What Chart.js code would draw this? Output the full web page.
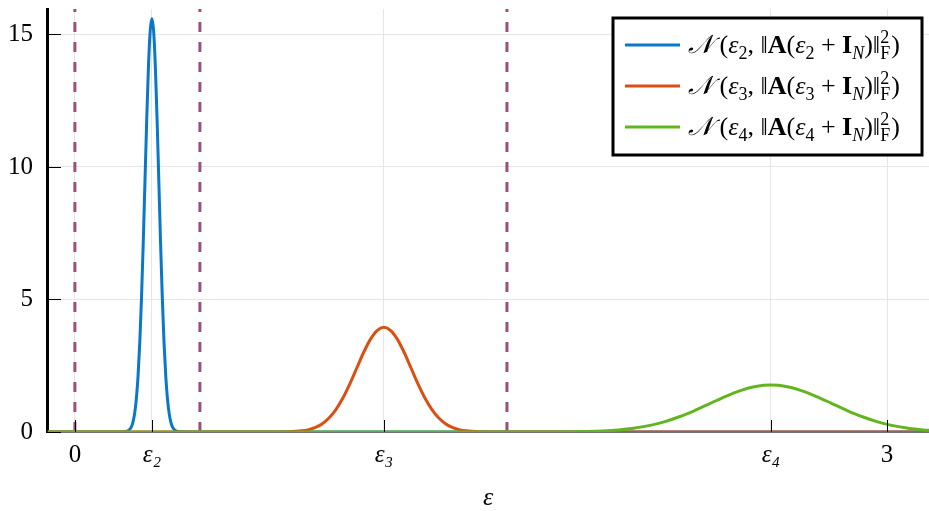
<!DOCTYPE html>
<html lang="en">
<head>
<meta charset="UTF-8">
<title>Gaussian densities</title>
<script src="https://cdn.jsdelivr.net/npm/chart.js"></script>
<style>
  body { margin: 0; padding: 0; background: #fff; }
  #wrap { width: 929px; height: 511px; }
</style>
</head>
<body>
<div id="wrap"><canvas id="densityChart"></canvas></div>
<script>
  // density samples, one list per curve
  const eps2X = [-0.10, 0.15, 0.1821, 0.1949, 0.2077, 0.2141, 0.2205, 0.2269, 0.2333, 0.2397, 0.2461, 0.2525, 0.2589, 0.2653, 0.2717, 0.2781,
                 0.2845, 0.2909, 0.2973, 0.3037, 0.3101, 0.3165, 0.3229, 0.3293, 0.3357, 0.3421, 0.3485, 0.3549, 0.3613, 0.3741, 0.3869, 0.42, 3.16];
  const eps2Y = [0, 0, 0.005, 0.034, 0.173, 0.356, 0.685, 1.24, 2.11, 3.37, 5.07, 7.14, 9.46, 11.77, 13.77, 15.12,
                 15.6, 15.12, 13.77, 11.77, 9.46, 7.14, 5.07, 3.37, 2.11, 1.24, 0.685, 0.356, 0.173, 0.034, 0.005, 0, 0];

  const eps3X = [-0.10, 0.69, 0.7375, 0.788, 0.8385, 0.8637, 0.889, 0.9142, 0.9395, 0.9647, 0.990, 1.0152, 1.0405, 1.0657, 1.091, 1.1162,
                 1.1415, 1.1668, 1.192, 1.2173, 1.2425, 1.2678, 1.293, 1.3183, 1.3435, 1.3688, 1.394, 1.4193, 1.4445, 1.495, 1.5455, 1.60, 3.16];
  const eps3Y = [0, 0, 0.0013, 0.0087, 0.044, 0.090, 0.173, 0.314, 0.535, 0.854, 1.283, 1.808, 2.396, 2.981, 3.486, 3.828,
                 3.95, 3.828, 3.486, 2.981, 2.396, 1.808, 1.283, 0.854, 0.535, 0.314, 0.173, 0.090, 0.044, 0.0087, 0.0013, 0, 0];

  const eps4X = [-0.10, 1.55, 1.6694, 1.7821, 1.8948, 1.9511, 2.0075, 2.0638, 2.1202, 2.1765, 2.2329, 2.2892, 2.3456, 2.402, 2.4583, 2.5147,
                 2.571, 2.6273, 2.6837, 2.740, 2.7964, 2.8528, 2.9091, 2.9655, 3.0218, 3.0782, 3.1345, 3.16];
  const eps4Y = [0, 0, 0.0006, 0.0039, 0.0196, 0.0404, 0.0777, 0.141, 0.2395, 0.383, 0.575, 0.810, 1.0735, 1.336, 1.562, 1.7155,
                 1.77, 1.7155, 1.562, 1.336, 1.0735, 0.810, 0.575, 0.383, 0.2395, 0.141, 0.0777, 0.058];

  // vertical dashed markers
  const dashedX = [0, 0.4618, 1.596];

  // axis ticks
  const xTickValues = [0, 0.2845, 1.1415, 2.571, 3];
  const xTickLabels = ['0', 'ε₂', 'ε₃', 'ε₄', '3'];
  const yTickValues = [0, 5, 10, 15];

  const seriesColors = ['#0a78c8', '#dc4f12', '#62b51f'];
  const dashColor = '#9b4f7d';
  const serif = "'Liberation Serif', 'DejaVu Serif', serif";

  // legend text as [text, kind] runs
  const legendRuns = k => [
    ['𝒩', 'i'], [' (', 'n'], ['ε', 'i'], [k, 'sub'], [', ‖', 'n'], ['A', 'b'], ['(', 'n'],
    ['ε', 'i'], [k, 'sub'], [' + ', 'n'], ['I', 'b'], ['N', 'subi'], [')‖', 'n'],
    [['2', 'F'], 'stack'], [')', 'n']
  ];
  const legendEntries = [legendRuns('2'), legendRuns('3'), legendRuns('4')];

  const toPoints = (xs, ys) => xs.map((x, i) => ({ x: x, y: ys[i] }));

  const curves = [[eps2X, eps2Y], [eps3X, eps3Y], [eps4X, eps4Y]].map((c, i) => ({
    data: toPoints(c[0], c[1]),
    borderColor: seriesColors[i],
    borderWidth: 3,
    pointRadius: 0,
    cubicInterpolationMode: 'monotone',
    order: 3 - i
  }));

  const markers = dashedX.map(x => ({
    data: [{ x: x, y: 0 }, { x: x, y: 16 }],
    borderColor: dashColor,
    borderWidth: 3,
    borderDash: [10, 10],
    pointRadius: 0,
    order: 5
  }));

  function drawRich(ctx, runs, x, y, size) {
    const small = Math.round(size * 0.68);
    ctx.textBaseline = 'alphabetic';
    ctx.textAlign = 'left';
    runs.forEach(([t, kind]) => {
      if (kind === 'stack') {
        ctx.font = `${small}px ${serif}`;
        const w = Math.max(ctx.measureText(t[0]).width, ctx.measureText(t[1]).width);
        ctx.fillText(t[0], x, y - size * 0.40);
        ctx.fillText(t[1], x, y + size * 0.22);
        x += w + 1;
        return;
      }
      let dy = 0;
      if (kind === 'n') ctx.font = `${size}px ${serif}`;
      if (kind === 'i') ctx.font = `italic ${size}px ${serif}`;
      if (kind === 'b') ctx.font = `bold ${size}px ${serif}`;
      if (kind === 'sub') { ctx.font = `${small}px ${serif}`; dy = size * 0.22; }
      if (kind === 'subi') { ctx.font = `italic ${small}px ${serif}`; dy = size * 0.22; }
      ctx.fillText(t, x, y + dy);
      x += ctx.measureText(t).width;
    });
  }

  // inward tick marks and the boxed legend
  const decorations = {
    id: 'decorations',
    afterDatasetsDraw(chart) {
      const { ctx, chartArea, scales } = chart;
      ctx.save();
      ctx.strokeStyle = '#000';
      ctx.lineWidth = 1;
      xTickValues.forEach(v => {
        const px = Math.round(scales.x.getPixelForValue(v)) + 0.5;
        ctx.beginPath();
        ctx.moveTo(px, chartArea.bottom);
        ctx.lineTo(px, chartArea.bottom - 12);
        ctx.stroke();
      });
      yTickValues.forEach(v => {
        const py = Math.round(scales.y.getPixelForValue(v)) + 0.5;
        ctx.beginPath();
        ctx.moveTo(chartArea.left, py);
        ctx.lineTo(chartArea.left + 14, py);
        ctx.stroke();
      });
      ctx.restore();
    },
    afterDraw(chart) {
      const { ctx, chartArea } = chart;
      const bx = chartArea.right - 316, by = chartArea.top + 9, bw = 309, bh = 137;
      ctx.save();
      ctx.fillStyle = '#fff';
      ctx.fillRect(bx, by, bw, bh);
      ctx.strokeStyle = '#000';
      ctx.lineWidth = 3;
      ctx.strokeRect(bx, by, bw, bh);
      legendEntries.forEach((runs, i) => {
        const cy = by + 27 + i * 41;
        ctx.strokeStyle = seriesColors[i];
        ctx.lineWidth = 3;
        ctx.beginPath();
        ctx.moveTo(bx + 12, cy);
        ctx.lineTo(bx + 67, cy);
        ctx.stroke();
        ctx.fillStyle = '#000';
        drawRich(ctx, runs, bx + 75, cy + 8, 26);
      });
      ctx.restore();
    }
  };

  new Chart(document.getElementById('densityChart'), {
    type: 'line',
    data: { datasets: [...curves, ...markers] },
    options: {
      responsive: true,
      maintainAspectRatio: false,
      animation: false,
      layout: { padding: { top: 9, right: 0, left: 0, bottom: 0 } },
      plugins: { legend: { display: false }, tooltip: { enabled: false } },
      scales: {
        x: {
          type: 'linear',
          min: -0.103,
          max: 3.155,
          afterBuildTicks: s => { s.ticks = xTickValues.map(v => ({ value: v })); },
          afterFit: s => { s.height = 79; s.paddingLeft = 0; s.paddingRight = 0; },
          grid: { color: '#e6e6e6', lineWidth: 1, drawTicks: false },
          border: { color: '#000', width: 1.5 },
          ticks: {
            padding: 8,
            color: '#000',
            maxRotation: 0,
            autoSkip: false,
            callback: (v, i) => xTickLabels[i],
            font: c => ({
              family: serif,
              size: 25,
              style: c.tick && /ε/.test(c.tick.label) ? 'italic' : 'normal'
            })
          },
          title: {
            display: true,
            text: 'ε',
            color: '#000',
            font: { family: serif, size: 26, style: 'italic', lineHeight: 1 },
            padding: { top: 0, bottom: 0 }
          }
        },
        y: {
          min: 0,
          max: 15.96,
          afterBuildTicks: s => { s.ticks = yTickValues.map(v => ({ value: v })); },
          afterFit: s => { s.width = 47; s.paddingTop = 0; s.paddingBottom = 0; },
          grid: { color: '#e6e6e6', lineWidth: 1, drawTicks: false },
          border: { color: '#000', width: 3 },
          ticks: {
            padding: 14,
            color: '#000',
            font: { family: serif, size: 25 }
          }
        }
      }
    },
    plugins: [decorations]
  });
</script>
</body>
</html>
